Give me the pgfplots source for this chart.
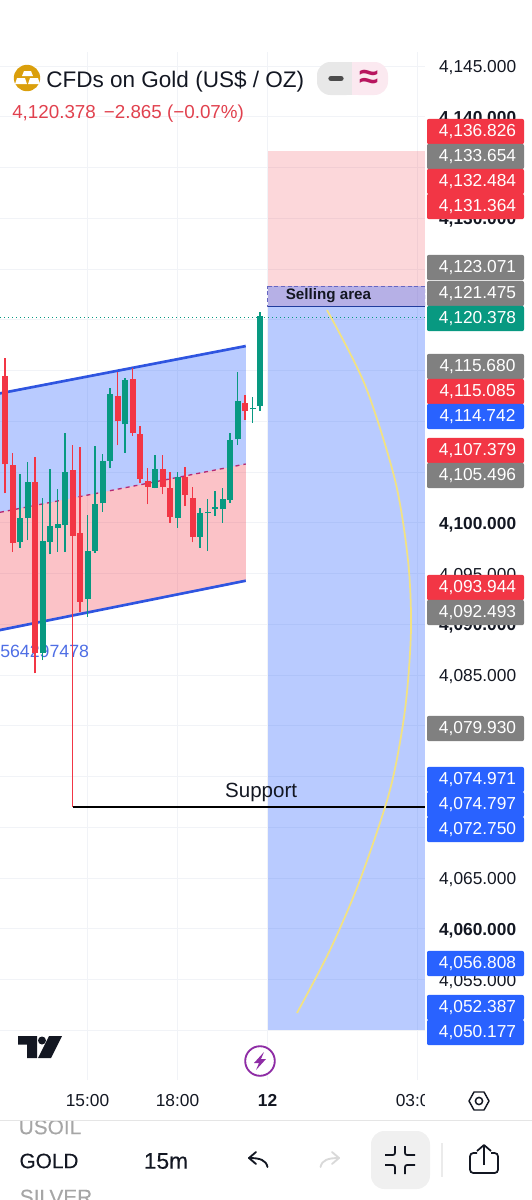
\documentclass[border=0pt]{standalone}
\usepackage{fontspec}
\setmainfont{Liberation Sans}
\newfontfamily\medf[FakeBold=0.25]{Liberation Sans}
\usepackage{pgfplots}
\pgfplotsset{compat=1.18}
\definecolor{tvred}{HTML}{F23645}
\definecolor{tvgreen}{HTML}{089981}
\definecolor{tvblue}{HTML}{2962FF}
\definecolor{tvgray}{HTML}{808080}
\definecolor{tvtext}{HTML}{131722}
\definecolor{tvgrid}{HTML}{F1F3F7}
\definecolor{chan}{HTML}{2F55E0}
\definecolor{gold}{HTML}{DA9F0C}
\definecolor{pillg}{HTML}{E8E8E8}
\definecolor{pillp}{HTML}{FBE9F0}
\definecolor{bolt}{HTML}{8E2CA5}
\definecolor{arcy}{HTML}{F2E283}
\definecolor{magen}{HTML}{B8155F}
\newcommand\fs[1]{\fontsize{#1}{#1}\selectfont}
\newcommand\pbox[3]{%
  \fill[#2,rounded corners=1.5pt] (427,#1-11.2) rectangle (524,#1+14.2);
  \node[text=white,inner sep=0pt,font=\fs{13pt}] at (477.5,#1+2) {#3};}
\begin{document}
\begin{tikzpicture}[x=0.75pt,y=-0.75pt]
\useasboundingbox (0,0) rectangle (532,1200);
\begin{axis}[
  at={(0pt,-810pt)},anchor=south west,
  scale only axis,width=318.75pt,height=771pt,
  xmin=-35.667,xmax=21,ymin=4045.1,ymax=4146.38,
  unbounded coords=jump,
  axis line style={draw=none},
  major tick length=0pt,
  tick style={draw=none},
  grid=major,
  grid style={tvgrid,line width=0.7pt},
  axis on top=false,
  xtick={-24,-12,0,20},
  xticklabels={15:00,18:00,\textbf{12},03:00},
  xticklabel style={font=\fs{13pt},text=tvtext,yshift=-7.2pt},
  ytick={4050,4055,4060,4065,4070,4075,4080,4085,4090,4095,4100,4105,4110,4115,4120,4125,4130,4135,4140,4145},
  yticklabels={{},{4,055.000},\textbf{4,060.000},{4,065.000},{},{},{},{4,085.000},\textbf{4,090.000},{4,095.000},\textbf{4,100.000},{},{},{},{},{},\textbf{4,130.000},{},\textbf{4,140.000},{4,145.000}},
  yticklabel pos=right,
  yticklabel style={font=\fs{13pt},text=tvtext,anchor=west,xshift=7pt,yshift=-1.5pt},
]
% position boxes to the right
\addplot[draw=none,fill=tvred,fill opacity=0.2] coordinates {(0,4136.6)(21,4136.6)(21,4121.3)(0,4121.3)} -- cycle;
\addplot[draw=none,fill=tvblue,fill opacity=0.33] coordinates {(0,4123.3)(21,4123.3)(21,4050)(0,4050)} -- cycle;
\addplot[draw=black!40!blue!60,densely dashed,line width=0.5pt] coordinates {(0,4123.3)(21,4123.3)(21,4121.3)(0,4121.3)} -- cycle;
\addplot[draw=chan!70!black,line width=1pt] coordinates {(0,4121.3)(21,4121.3)};
% channel
\addplot[draw=none,fill=tvblue,fill opacity=0.33] coordinates {(-35.667,4112.75)(-2.9,4117.41)(-2.9,4105.79)(-35.667,4101.03)} -- cycle;
\addplot[draw=none,fill=tvred,fill opacity=0.3] coordinates {(-35.667,4101.03)(-2.9,4105.79)(-2.9,4094.29)(-35.667,4089.43)} -- cycle;
\addplot[chan,line width=2pt] coordinates {(-35.667,4112.75)(-2.9,4117.41)};
\addplot[tvred!75!blue,line width=1pt,dashed] coordinates {(-35.667,4101.03)(-2.9,4105.79)};
\addplot[chan,line width=2pt] coordinates {(-35.667,4089.43)(-2.9,4094.29)};
\node[anchor=west,inner sep=0pt,text=chan!85!white,font=\fs{13.3pt}] at (axis cs:-35.667,4087.3) {564297478};
% last price line
\addplot[tvgreen,line width=1pt,dotted] coordinates {(-35.667,4120.2)(21,4120.2)};
% red candles: low-high wicks
\addplot[tvred,line width=1pt] coordinates {
(-35,4102.9)(-35,4116.2)(-35,nan)
(-34,4097.11)(-34,4106.83)(-34,nan)
(-31,4085.16)(-31,4106.51)(-31,nan)
(-26,4072.0)(-26,4107.66)(-26,nan)
(-25,4091.17)(-25,4107.43)(-25,nan)
(-20,4107.62)(-20,4114.88)(-20,nan)
(-18,4108.54)(-18,4115.21)(-18,nan)
(-17,4103.88)(-17,4109.53)(-17,nan)
(-16,4101.81)(-16,4105.36)(-16,nan)
(-14,4102.8)(-14,4106.64)(-14,nan)
(-13,4100)(-13,4105.03)(-13,nan)
(-11,4101.65)(-11,4105.45)(-11,nan)
(-10,4098.07)(-10,4103.55)(-10,nan)
(-3,4110.12)(-3,4112.58)};
% red candles: bodies
\addplot[tvred,line width=4.5pt] coordinates {
(-35,4105.75)(-35,4114.45)(-35,nan)
(-34,4098.03)(-34,4105.65)(-34,nan)
(-31,4087.13)(-31,4104.01)(-31,nan)
(-26,4098.69)(-26,4105.19)(-26,nan)
(-25,4092.22)(-25,4098.99)(-25,nan)
(-20,4109.99)(-20,4112.48)(-20,nan)
(-18,4108.8)(-18,4114.19)(-18,nan)
(-17,4104.34)(-17,4108.71)(-17,nan)
(-16,4103.55)(-16,4104.11)(-16,nan)
(-14,4103.52)(-14,4105.32)(-14,nan)
(-13,4100.59)(-13,4103.45)(-13,nan)
(-11,4102.76)(-11,4104.54)(-11,nan)
(-10,4098.62)(-10,4102.47)(-10,nan)
(-3,4111)(-3,4111.76)};
% green candles: low-high wicks
\addplot[tvgreen,line width=1pt] coordinates {
(-33,4097.54)(-33,4104.77)(-33,nan)
(-32,4098.3)(-32,4106.01)(-32,nan)
(-30,4086.47)(-30,4102.47)(-30,nan)
(-29,4096.88)(-29,4105.26)(-29,nan)
(-28,4097.15)(-28,4103.35)(-28,nan)
(-27,4097.11)(-27,4108.8)(-27,nan)
(-24,4090.74)(-24,4100.76)(-24,nan)
(-23,4097.05)(-23,4107.56)(-23,nan)
(-22,4101.09)(-22,4106.74)(-22,nan)
(-21,4105.36)(-21,4113.24)(-21,nan)
(-19,4106.9)(-19,4114.29)(-19,nan)
(-15,4103.39)(-15,4106.67)(-15,nan)
(-12,4099.51)(-12,4105.03)(-12,nan)
(-9,4097.54)(-9,4101.48)(-9,nan)
(-8,4097.21)(-8,4102.3)(-8,nan)
(-7,4100.69)(-7,4103.16)(-7,nan)
(-6,4100)(-6,4103.39)(-6,nan)
(-5,4101.97)(-5,4108.87)(-5,nan)
(-4,4107.66)(-4,4114.85)(-4,nan)
(-2,4109.86)(-2,4112.42)(-2,nan)
(-1,4111)(-1,4120.76)};
% green candles: bodies
\addplot[tvgreen,line width=4.5pt] coordinates {
(-33,4098.13)(-33,4100.46)(-33,nan)
(-32,4100.43)(-32,4104.01)(-32,nan)
(-30,4087.13)(-30,4098.2)(-30,nan)
(-29,4098.1)(-29,4099.67)(-29,nan)
(-28,4099.44)(-28,4099.87)(-28,nan)
(-27,4099.74)(-27,4105)(-27,nan)
(-24,4092.52)(-24,4097.24)(-24,nan)
(-23,4097.24)(-23,4101.88)(-23,nan)
(-22,4101.91)(-22,4106.05)(-22,nan)
(-21,4106.11)(-21,4112.68)(-21,nan)
(-19,4109.69)(-19,4114.09)(-19,nan)
(-15,4103.45)(-15,4105.32)(-15,nan)
(-12,4100.43)(-12,4104.47)(-12,nan)
(-9,4098.62)(-9,4100.92)(-9,nan)
(-8,4100.92)(-8,4101.05)(-8,nan)
(-7,4101.35)(-7,4101.51)(-7,nan)
(-6,4101.32)(-6,4102.3)(-6,nan)
(-5,4102.27)(-5,4108.11)(-5,nan)
(-4,4108.21)(-4,4111.99)(-4,nan)
(-2,4111.17)(-2,4111.27)(-2,nan)
(-1,4111.53)(-1,4120.37)};
% support
\addplot[black,line width=2pt] coordinates {(-26,4072.0)(21,4072.0)};
\node[inner sep=0pt,font=\fs{15.4pt},text=tvtext] at (axis cs:-0.85,4073.45) {Support};
% yellow arc
\addplot[smooth,draw=arcy,line width=1.3pt] coordinates {
(7.93,4120.96)(13,4113.57)(17,4104.21)(18.73,4096.33)(19.13,4089.43)(18.33,4081.55)(16.33,4073.67)(12.33,4064.8)(8.33,4057.9)(3.93,4051.7)};
\node[anchor=west,inner sep=0pt,font=\bfseries\fs{11.4pt},text=tvtext] at (axis cs:2.4,4122.35) {Selling area};
\end{axis}
% cover for the clipped time label
\fill[white] (425,1085) rectangle (465,1115);
% price labels
\pbox{130}{tvred}{4,136.826}
\pbox{155}{tvgray}{4,133.654}
\pbox{180}{tvred}{4,132.484}
\pbox{205}{tvred}{4,131.364}
\pbox{266}{tvgray}{4,123.071}
\pbox{292}{tvgray}{4,121.475}
\pbox{317}{tvgreen}{4,120.378}
\pbox{365}{tvgray}{4,115.680}
\pbox{390}{tvred}{4,115.085}
\pbox{415}{tvblue}{4,114.742}
\pbox{449}{tvred}{4,107.379}
\pbox{474}{tvgray}{4,105.496}
\pbox{586}{tvred}{4,093.944}
\pbox{611}{tvgray}{4,092.493}
\pbox{727}{tvgray}{4,079.930}
\pbox{778}{tvblue}{4,074.971}
\pbox{803}{tvblue}{4,074.797}
\pbox{828}{tvblue}{4,072.750}
\pbox{962}{tvblue}{4,056.808}
\pbox{1006}{tvblue}{4,052.387}
\pbox{1031}{tvblue}{4,050.177}
% header
\fill[gold] (27,78) circle (13.2);
\fill[white] (24,71) -- (31,71) -- (33,76) -- (22,76) -- cycle;
\fill[white] (17,78) -- (25,78) -- (27,84) -- (15,84) -- cycle;
\fill[white] (30,78) -- (38,78) -- (40,84) -- (28,84) -- cycle;
\node[anchor=west,inner sep=0pt,text=tvtext,font=\fs{16.9pt}] at (46,81) {CFDs on Gold (US\$ / OZ)};
\node[anchor=west,inner sep=0pt,text=tvred!85!gray,font=\fs{14.1pt}] at (12,114) {4,120.378\hspace{6pt}−2.865 (−0.07\%)};
\fill[pillg,rounded corners=10pt] (317,62) rectangle (360,95);
\fill[pillp,rounded corners=10pt] (345,62) rectangle (388,95);
\fill[pillg] (335,62) rectangle (352,95);
\fill[pillp] (352,62) rectangle (370,95);
\draw[black!70,line width=4pt,line cap=round] (331,78.5) -- (341,78.5);
\node[inner sep=0pt,text=magen,font=\bfseries\fs{26pt}] at (369,79) {≈};
% TV logo
\fill[tvtext] (18,1036) -- (37,1036) -- (37,1058) -- (27,1058) -- (27,1044.5) -- (18,1044.5) -- cycle;
\fill[tvtext] (42,1040.5) circle (4);
\fill[tvtext] (49,1036) -- (62,1036) -- (51,1058) -- (38,1058) -- cycle;
% lightning
\fill[white] (260,1061) circle (16);
\draw[bolt,line width=1.4pt] (260,1061) circle (14.8);
\fill[bolt] (264,1052) -- (254,1063) -- (259,1063) -- (256,1070) -- (266,1059) -- (261,1059) -- cycle;
% hexagon
\draw[tvtext,line width=1.1pt,line join=round] (469,1101) -- (474,1092) -- (484,1092) -- (489,1101) -- (484,1110) -- (474,1110) -- cycle;
\draw[tvtext,line width=1.1pt] (479,1101) circle (3.6);
% bottom bar
\draw[black!10,line width=0.7pt] (0,1120.5) -- (532,1120.5);
\begin{scope}
\clip (0,1121) rectangle (300,1200);
\node[inner sep=0pt,text=black!35,font=\medf\fs{15.6pt}] at (50,1127) {USOIL};
\node[inner sep=0pt,text=black!35,font=\medf\fs{15.6pt}] at (56,1197) {SILVER};
\end{scope}
\node[inner sep=0pt,text=tvtext,font=\medf\fs{15.6pt}] at (49,1161) {GOLD};
\node[inner sep=0pt,text=tvtext,font=\medf\fs{17pt}] at (166,1161) {15m};
% undo, redo
\draw[tvtext,line width=1.4pt,line cap=round,line join=round] (267.5,1167) .. controls (266,1160) and (260,1158) .. (249,1158);
\draw[tvtext,line width=1.4pt,line cap=round,line join=round] (256,1152) -- (249,1158) -- (256,1164);
\draw[black!15,line width=1.4pt,line cap=round,line join=round] (320.5,1167) .. controls (322,1160) and (328,1158) .. (339,1158);
\draw[black!15,line width=1.4pt,line cap=round,line join=round] (332,1152) -- (339,1158) -- (332,1164);
% shrink button
\fill[black!6,rounded corners=10pt] (371,1131) rectangle (430,1189);
\draw[tvtext,line width=1.3pt,rounded corners=1.5pt] (385,1155) -- (395,1155) -- (395,1146);
\draw[tvtext,line width=1.3pt,rounded corners=1.5pt] (415,1155) -- (405,1155) -- (405,1146);
\draw[tvtext,line width=1.3pt,rounded corners=1.5pt] (385,1165) -- (395,1165) -- (395,1174);
\draw[tvtext,line width=1.3pt,rounded corners=1.5pt] (415,1165) -- (405,1165) -- (405,1174);
\draw[black!8,line width=0.8pt] (442,1143) -- (442,1177);
% share
\draw[tvtext,line width=1.3pt,rounded corners=2.5pt] (477,1153) -- (470,1153) -- (470,1173) -- (498,1173) -- (498,1153) -- (491,1153);
\draw[tvtext,line width=1.3pt,line join=round] (484,1165) -- (484,1145);
\draw[tvtext,line width=1.3pt,line join=round] (477,1151) -- (484,1145) -- (491,1151);
\end{tikzpicture}
\end{document}
